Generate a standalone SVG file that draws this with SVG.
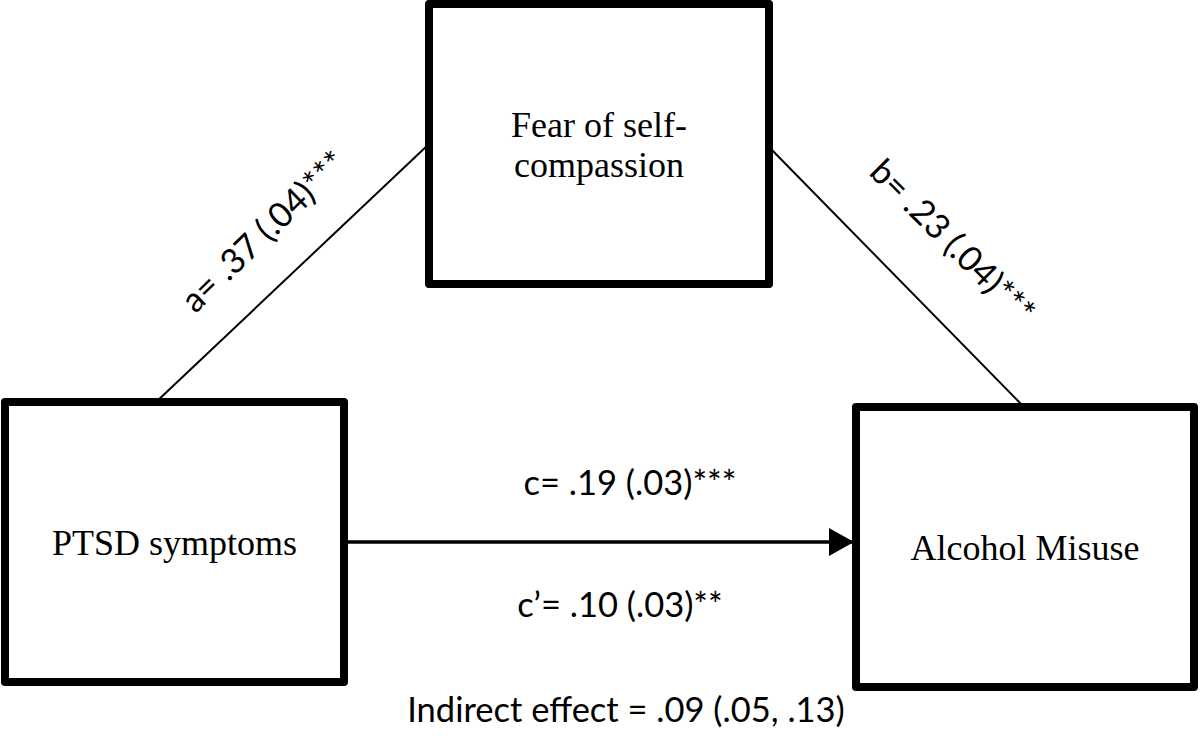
<svg xmlns="http://www.w3.org/2000/svg" width="1200" height="749" viewBox="0 0 1200 749">
<style>
.box{fill:#fff;stroke:#000;stroke-width:8;stroke-linejoin:round}
.node{font-family:"Liberation Serif","Times New Roman",serif;font-size:36px;fill:#000;text-anchor:middle}
.lab{font-family:Lato,"Liberation Sans",sans-serif;font-size:34.5px;fill:#000;text-anchor:middle}
.edge{stroke:#000;fill:none}
</style>
<defs>
<marker id="arr" markerUnits="userSpaceOnUse" markerWidth="26" markerHeight="28" refX="24" refY="14" orient="auto">
<path d="M0,0 L25,14 L0,28 Z" fill="#000"/>
</marker>
</defs>
<rect width="1200" height="749" fill="#fff"/>
<g id="connectors">
<line class="edge" x1="155" y1="403" x2="429" y2="144" stroke-width="2"/>
<line class="edge" x1="769" y1="147" x2="1022" y2="405" stroke-width="2"/>
<line class="edge" x1="348" y1="542" x2="853" y2="542" stroke-width="3.5" marker-end="url(#arr)"/>
</g>
<g id="node-fear">
<rect class="box" x="429" y="4" width="340" height="280"/>
<text class="node" x="599" y="137">Fear of self-</text>
<text class="node" x="599" y="177">compassion</text>
</g>
<g id="node-ptsd">
<rect class="box" x="5" y="402" width="339" height="280"/>
<text class="node" x="174.5" y="555">PTSD symptoms</text>
</g>
<g id="node-alcohol">
<rect class="box" x="856" y="407" width="338" height="280"/>
<text class="node" x="1025" y="560">Alcohol Misuse</text>
</g>
<g id="labels">
<text class="lab" transform="translate(272,240) rotate(-44)">a= .37 (.04)***</text>
<text class="lab" transform="translate(944,250) rotate(45)">b= .23 (.04)***</text>
<text class="lab" x="630" y="495">c= .19 (.03)***</text>
<text class="lab" x="620" y="617">c’= .10 (.03)**</text>
<text class="lab" x="626" y="722">Indirect effect = .09 (.05, .13)</text>
</g>
</svg>
